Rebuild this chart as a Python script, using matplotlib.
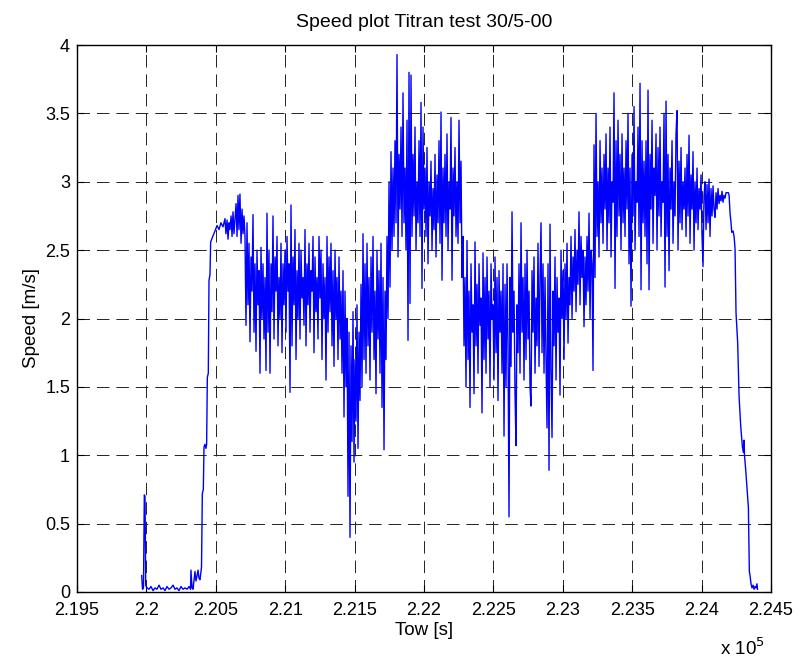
import numpy as np
import matplotlib
matplotlib.use("Agg")
import matplotlib.pyplot as plt

plt.rcParams['font.family'] = ['Liberation Sans', 'DejaVu Sans']
plt.rcParams['lines.scale_dashes'] = False

# ---------------- data ----------------
# start of run (Tow [s], speed [m/s])
start_t = [219966, 219972, 219979, 219985, 219990, 219995, 220004, 220019, 220033, 220048,
           220062, 220076, 220091, 220105, 220120, 220134, 220148, 220163, 220177, 220192,
           220206, 220220, 220235, 220249, 220264, 220278, 220293, 220307, 220318, 220321,
           220329, 220336, 220350, 220357, 220365, 220372, 220379, 220386, 220397, 220403,
           220410, 220415, 220422, 220429, 220434, 220439, 220446, 220451, 220458, 220463,
           220478, 220494, 220509, 220523, 220537, 220552, 220566, 220573, 220581, 220588,
           220595, 220602, 220610, 220617, 220624, 220631, 220638, 220646, 220653, 220660,
           220667, 220674, 220682, 220689, 220696, 220703]
start_v = [0.12, 0.02, 0.03, 0.71, 0.70, 0.05, 0.03, 0.02, 0.04, 0.01,
           0.03, 0.02, 0.05, 0.02, 0.03, 0.01, 0.04, 0.02, 0.03, 0.05,
           0.02, 0.03, 0.01, 0.04, 0.02, 0.03, 0.02, 0.04, 0.02, 0.16,
           0.03, 0.02, 0.15, 0.08, 0.12, 0.16, 0.10, 0.09, 0.18, 0.72,
           0.75, 1.06, 1.08, 1.05, 1.08, 1.57, 1.60, 2.28, 2.32, 2.56,
           2.60, 2.64, 2.68, 2.65, 2.70, 2.67, 2.73, 2.62, 2.72, 2.58,
           2.70, 2.65, 2.75, 2.60, 2.78, 2.62, 2.72, 2.84, 2.60, 2.90,
           2.65, 2.91, 2.55, 2.80, 2.62, 2.75]

# main towing section, one sample every dt seconds from t0
main_t0 = 220710.4
main_dt = 7.205
main_v = [
    2.6, 1.95, 2.7, 2.1, 2.55, 1.83, 2.45, 2.2, 2.76, 1.9, 2.4, 1.76, 2.5, 2.1, 2.35, 1.6, 2.52, 2.0, 2.4, 1.85,
    2.3, 1.62, 2.77, 1.9, 2.5, 1.6, 2.4, 2.05, 2.75, 1.85, 2.45, 2.2, 2.6, 1.8, 2.3, 2.0, 2.55, 1.75, 2.4, 2.1,
    2.5, 1.9, 2.6, 2.2, 2.4, 1.46, 2.83, 1.8, 2.45, 2.1, 2.65, 1.7, 2.35, 2.0, 2.55, 1.85, 2.5, 2.15, 2.3, 1.95,
    2.65, 1.8, 2.4, 2.1, 2.55, 1.9, 2.35, 2.2, 2.6, 1.75, 2.45, 2.05, 2.3, 1.85, 2.6, 2.15, 2.5, 1.7, 2.4, 2.0,
    2.3, 1.55, 2.6, 1.9, 2.45, 2.05, 2.55, 1.8, 2.35, 1.65, 2.5, 2.0, 2.3, 1.7, 2.45, 1.85, 2.2, 1.6, 2.35, 1.28,
    2.2, 1.5, 2.0, 0.70, 1.9, 0.40, 1.8, 1.1, 2.05, 0.95, 1.7, 1.25, 2.1, 1.05, 1.9, 1.4, 2.25, 1.5, 2.62, 1.7,
    2.4, 1.6, 2.55, 1.8, 2.3, 1.55, 2.45, 1.9, 2.6, 1.7, 2.2, 1.45, 2.5, 1.85, 2.35, 1.6, 2.55, 1.35, 2.3, 1.04,
    2.2, 1.7, 2.6, 2.0, 3.0, 2.23, 3.22, 2.5, 3.1, 2.6, 3.3, 2.7, 3.93, 2.45, 3.2, 2.8, 3.4, 2.6, 3.65, 2.7,
    3.1, 2.5, 3.45, 1.84, 3.80, 2.11, 3.78, 2.6, 3.2, 2.75, 3.4, 2.5, 3.0, 2.7, 3.3, 2.6, 3.58, 2.22, 3.4, 2.8,
    3.1, 2.6, 3.25, 2.4, 3.0, 2.75, 3.15, 2.5, 2.95, 2.65, 3.2, 2.45, 3.05, 2.7, 3.3, 2.55, 3.51, 2.28, 3.1, 2.7,
    3.2, 2.6, 3.35, 2.5, 3.0, 2.8, 3.47, 2.28, 3.1, 2.75, 3.25, 2.6, 3.0, 2.55, 3.45, 2.7, 3.15, 2.3, 2.6, 1.8,
    2.3, 1.5, 2.57, 1.7, 2.2, 1.35, 2.4, 1.9, 2.1, 1.45, 2.56, 1.8, 2.25, 1.6, 2.4, 1.95, 2.15, 1.31, 2.48, 1.7,
    2.3, 1.6, 2.45, 1.85, 2.2, 1.5, 2.4, 2.0, 2.1, 1.55, 2.45, 1.75, 2.3, 1.4, 2.35, 1.9, 2.2, 1.6, 2.4, 1.14,
    2.25, 1.5, 2.4, 1.8, 0.55, 2.3, 1.65, 2.78, 1.9, 2.2, 1.45, 1.07, 2.1, 1.75, 2.4, 1.6, 2.70, 1.9, 2.3, 1.55,
    2.4, 1.7, 2.5, 1.85, 2.2, 1.5, 1.36, 2.35, 1.9, 2.45, 1.6, 2.15, 1.8, 2.55, 1.65, 2.3, 2.70, 1.75, 2.4, 1.6,
    2.3, 1.7, 1.2, 2.4, 0.89, 2.69, 1.6, 1.13, 2.2, 1.8, 2.45, 1.55, 2.3, 1.9, 2.15, 1.44, 2.5, 2.0, 2.35, 1.7,
    2.4, 2.0, 2.55, 1.82, 2.3, 2.1, 2.6, 2.0, 2.45, 2.2, 2.65, 2.05, 2.5, 2.25, 2.78, 2.1, 2.6, 2.3, 2.5, 1.94,
    2.45, 2.1, 2.6, 2.2, 2.77, 2.0, 2.5, 2.4, 1.62, 3.27, 2.3, 3.50, 2.6, 3.0, 2.45, 3.3, 2.7, 3.1, 2.55, 3.2,
    2.8, 3.35, 2.5, 3.1, 2.7, 3.4, 2.45, 3.0, 2.85, 3.65, 2.22, 3.3, 2.6, 3.45, 2.75, 3.2, 2.5, 3.35, 2.7, 3.1,
    2.6, 3.3, 2.8, 3.5, 2.4, 3.1, 2.09, 3.2, 2.75, 3.55, 2.5, 3.0, 2.85, 3.4, 2.6, 3.72, 2.21, 3.3, 2.7, 3.15,
    2.6, 3.3, 2.4, 3.67, 2.21, 3.2, 2.8, 3.45, 2.55, 3.1, 2.9, 3.35, 2.5, 3.25, 2.75, 3.4, 2.6, 3.0, 2.85, 3.5,
    2.23, 3.59, 2.6, 3.2, 2.35, 3.1, 2.8, 3.3, 2.55, 3.0, 2.75, 3.35, 3.52, 2.5, 3.15, 2.7, 3.25, 2.65, 3.0, 2.8,
    3.1, 2.6, 3.2, 2.75, 3.34, 2.55, 3.05, 2.8, 3.22, 2.5, 3.0, 2.7, 3.1, 2.65, 2.95, 2.8, 3.05, 2.6, 2.38, 2.9,
    3.0, 2.65, 2.98, 2.7, 3.02, 2.6, 2.95, 2.75, 2.97, 2.8, 2.74, 2.92, 2.8, 2.95, 2.84, 2.9, 2.86, 2.93, 2.85, 2.9,
    2.88, 2.92,
]

# deceleration at end of run
end_t = [224193, 224198, 224205, 224212, 224217, 224227, 224234, 224241, 224248, 224260,
         224270, 224282, 224294, 224302, 224306, 224309, 224318, 224337, 224344, 224349,
         224356, 224363, 224371, 224378, 224385, 224392, 224399, 224403]
end_v = [2.92, 2.90, 2.77, 2.70, 2.63, 2.64, 2.60, 2.51, 2.04, 1.82,
         1.43, 1.21, 1.06, 1.02, 1.11, 1.00, 0.89, 0.62, 0.15, 0.12,
         0.06, 0.03, 0.05, 0.02, 0.04, 0.03, 0.06, 0.02]

x_ticks = [219500, 220000, 220500, 221000, 221500, 222000, 222500, 223000, 223500, 224000, 224500]
x_tick_labels = ['2.195', '2.2', '2.205', '2.21', '2.215', '2.22', '2.225', '2.23', '2.235', '2.24', '2.245']
y_ticks = [0, 0.5, 1, 1.5, 2, 2.5, 3, 3.5, 4]
y_tick_labels = ['0', '0.5', '1', '1.5', '2', '2.5', '3', '3.5', '4']

# ---------------- plot ----------------
main_t = main_t0 + main_dt * np.arange(len(main_v))
t = np.concatenate([start_t, main_t, end_t])
v = np.concatenate([start_v, main_v, end_v])

fig = plt.figure(figsize=(8.02, 6.59), dpi=100)
ax = fig.add_axes([77/802, 1 - 592/659, (771-77)/802, (592-45)/659])

ax.plot(t, v, color='#0000ff', lw=1.0)

ax.set_xlim(219500, 224500)
ax.set_ylim(0, 4)
ax.set_xticks(x_ticks)
ax.set_xticklabels(x_tick_labels)
ax.set_yticks(y_ticks)
ax.set_yticklabels(y_tick_labels)

ax.grid(True, color='#222222', lw=0.7, linestyle=(0, (9, 5)))
ax.tick_params(direction='in', length=5, width=0.8, top=True, right=True,
               labelsize=13, colors='black')
ax.tick_params(axis='x', pad=7.5)
ax.tick_params(axis='y', pad=5)
for s in ax.spines.values():
    s.set_linewidth(1.0)

ax.set_title('Speed plot Titran test 30/5-00', fontsize=14, pad=13)
ax.set_xlabel('Tow [s]', fontsize=13.5, labelpad=2)
ax.set_ylabel('Speed [m/s]', fontsize=13.5, labelpad=4)
fig.text(742/802, 1 - 648/659, r'x 10$^{5}$', fontsize=13.5, ha='center', va='center')

fig.savefig('out.png', dpi=100)
